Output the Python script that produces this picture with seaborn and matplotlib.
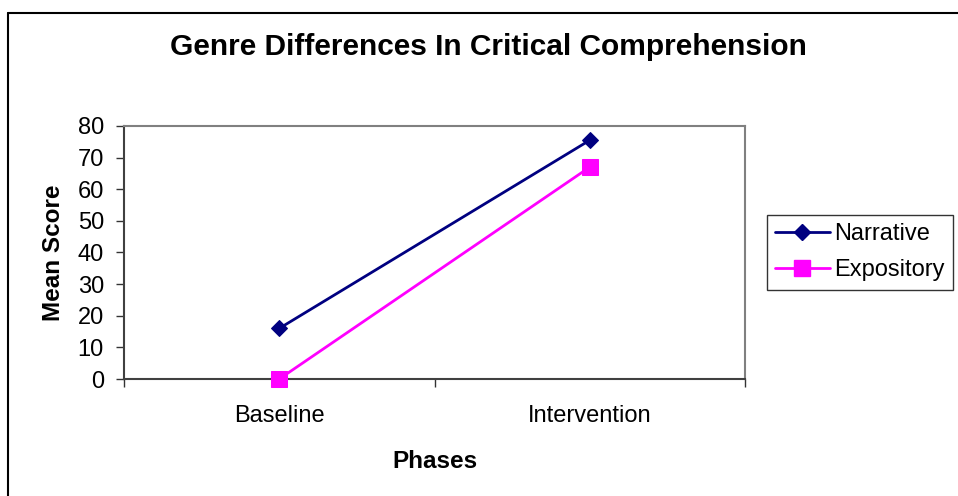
import pandas as pd
import matplotlib
matplotlib.use('Agg')
import matplotlib.pyplot as plt
from matplotlib.lines import Line2D
from matplotlib.ticker import FixedLocator
import seaborn as sns

# data
phases = ['Baseline', 'Intervention']
narrative = [16, 75.5]
expository = [0, 67]
series_names = ['Narrative', 'Expository']

df = pd.DataFrame({
    'Phase': phases * 2,
    'Score': narrative + expository,
    'Genre': [series_names[0]] * 2 + [series_names[1]] * 2,
})

sns.set_style('white')
plt.rcParams['font.family'] = ['Liberation Sans', 'DejaVu Sans']
plt.rcParams['text.color'] = 'black'
plt.rcParams['axes.labelcolor'] = 'black'
plt.rcParams['xtick.color'] = 'black'
plt.rcParams['ytick.color'] = 'black'

fig = plt.figure(figsize=(9.58, 4.96), dpi=100)
ax = fig.add_axes([124 / 958, 1 - 379 / 496, (745 - 124) / 958, (379 - 126) / 496])

palette = {'Narrative': '#000080', 'Expository': '#FF00FF'}
markers = {'Narrative': 'D', 'Expository': 's'}
sizes = {'Narrative': 8.5, 'Expository': 11}

for name in series_names:
    sub = df[df['Genre'] == name]
    sns.lineplot(data=sub, x='Phase', y='Score', color=palette[name],
                 marker=markers[name], markersize=sizes[name],
                 markeredgecolor=palette[name], linewidth=2, ax=ax,
                 label=name, legend=False, clip_on=False, zorder=5)

ax.set_xlim(-0.5, 1.5)
ax.set_ylim(0, 80)
ax.set_yticks(range(0, 81, 10))
ax.set_xticks([0, 1])
ax.set_xticklabels(phases)
ax.xaxis.set_minor_locator(FixedLocator([-0.5, 0.5, 1.5]))
ax.tick_params(axis='x', which='major', length=0, pad=19, labelsize=17)
ax.tick_params(axis='x', which='minor', length=5.5, width=1, color='#333333', direction='out', bottom=True)
ax.tick_params(axis='y', length=5.5, width=1, color='#333333', direction='out', left=True, labelsize=17, pad=9)

for side in ['top', 'right']:
    ax.spines[side].set_color('#808080')
    ax.spines[side].set_linewidth(1.5)
for side in ['left', 'bottom']:
    ax.spines[side].set_color('#404040')
    ax.spines[side].set_linewidth(1.5)

ax.set_xlabel('Phases', fontsize=17.5, fontweight='bold', labelpad=16)
ax.set_ylabel('Mean Score', fontsize=17.5, fontweight='bold', labelpad=9)

fig.text(488 / 958, 1 - 47 / 496, 'Genre Differences In Critical Comprehension',
         ha='center', va='center', fontsize=21.5, fontweight='bold')

handles = [Line2D([], [], color=palette[n], marker=markers[n], markersize=sizes[n],
                  linewidth=2) for n in series_names]
leg = fig.legend(handles, series_names, loc='upper left',
                 bbox_to_anchor=(767 / 958, 1 - 215 / 496),
                 frameon=True, fancybox=False, edgecolor='black',
                 fontsize=17, handlelength=2.3, borderpad=0.35,
                 labelspacing=0.6, handletextpad=0.2, borderaxespad=0)
leg.get_frame().set_linewidth(1)

# outer chart border (top and left visible)
fig.add_artist(Line2D([7.5 / 958, 1], [1 - 12.5 / 496, 1 - 12.5 / 496],
                      transform=fig.transFigure, color='black', linewidth=1.5))
fig.add_artist(Line2D([7.5 / 958, 7.5 / 958], [0, 1 - 12.5 / 496],
                      transform=fig.transFigure, color='black', linewidth=1.5))

fig.savefig('out.png', dpi=100)
